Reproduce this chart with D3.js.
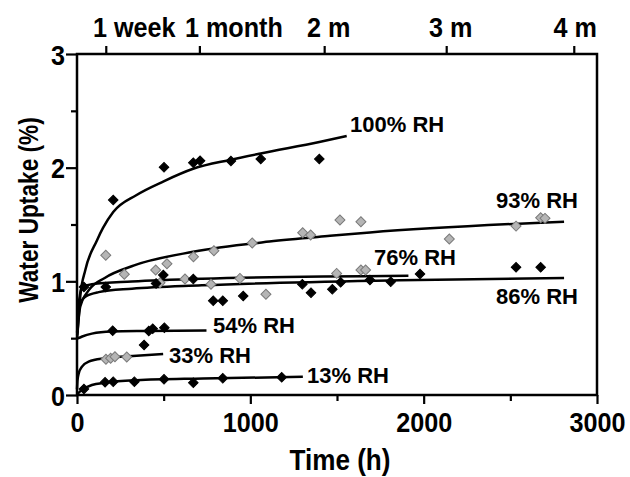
<!DOCTYPE html>
<html>
<head>
<meta charset="utf-8">
<script src="https://cdn.jsdelivr.net/npm/d3@7"></script>
<style>
  body { margin: 0; background: #fff; }
  svg { display: block; }
</style>
</head>
<body>
<div id="chart"></div>
<script>
// measured points, [hours, uptake %]
var pts100 = [[209,1.715],[502,2.003],[671,2.043],[710,2.061],[888,2.058],[1060,2.076],[1398,2.076]];
var pts93 = [[166,1.229],[273,1.062],[454,1.099],[519,1.155],[672,1.216],[790,1.269],[1011,1.337],[1302,1.427],
             [1348,1.407],[1517,1.539],[1638,1.524],[2148,1.372],[2533,1.486],[2675,1.559],[2700,1.554]];
var pts86 = [[40,0.95],[166,0.95],[456,0.982],[498,1.055],[671,1.02],[786,0.829],[841,0.829],[959,0.871],
             [1300,0.974],[1350,0.9],[1473,0.93],[1521,0.991],[1690,1.011],[1810,0.996],[1979,1.064],[2533,1.123],[2675,1.123]];
var pts76 = [[479,0.988],[623,1.02],[773,0.974],[940,1.026],[1090,0.886],[1498,1.07],[1638,1.099],[1665,1.099]];
var pts54 = [[206,0.566],[387,0.44],[414,0.563],[437,0.583],[504,0.592]];
var pts33 = [[167,0.314],[194,0.323],[219,0.337],[287,0.334]];
var pts13 = [[40,0.053],[162,0.112],[209,0.117],[331,0.117],[502,0.138],[671,0.108],[841,0.147],[1181,0.156]];

// fitted curves
var fit100 = [[1,0.5],[10,0.69],[19,0.87],[48,1.10],[115,1.36],[150,1.47],[209,1.61],[344,1.76],[500,1.88],
              [670,1.99],[888,2.07],[1060,2.125],[1398,2.225],[1556,2.278]];
var fit93 = [[1,0.53],[19,0.78],[67,0.92],[160,1.03],[330,1.14],[670,1.26],[1110,1.35],[1460,1.40],[1690,1.43],[2810,1.525]];
var fit86 = [[1,0.55],[11,0.775],[48,0.865],[125,0.905],[317,0.935],[720,0.965],[1860,1.01],[2810,1.03]];
var fit76 = [[1,0.55],[4,0.69],[29,0.95],[86,0.975],[317,0.998],[720,1.022],[1912,1.05]];
var fit54 = [[0,0.495],[30,0.515],[86,0.54],[200,0.558],[400,0.563],[747,0.568]];
var fit33 = [[0,0.05],[3,0.13],[10,0.19],[29,0.25],[67,0.293],[163,0.323],[344,0.345],[497,0.36]];
var fit13 = [[2,0.005],[10,0.02],[29,0.044],[86,0.088],[163,0.108],[344,0.13],[727,0.145],[1303,0.16]];

var seriesNames = ['100% RH', '93% RH', '86% RH', '76% RH', '54% RH', '33% RH', '13% RH'];

var xTicks = [0, 1000, 2000, 3000];
var xMinorTicks = [500, 1500, 2500];
var yTicks = [0, 1, 2, 3];
var yMinorTicks = [0.5, 1.5, 2.5];
var topTickHours = [166, 706, 1426, 2130, 2866];
var topTickLabels = ['1 week', '1 month', '2 m', '3 m', '4 m'];

function figure() {
    var width = 630, height = 477;
    var plot = { left: 77, right: 597, top: 54, bottom: 395 };
    var squeeze = 0.9;   // axis lettering is a condensed face
    var font = "'Liberation Sans', Arial, sans-serif";
    var topLabelShift = [28, 34, 4, 4, 1];

    var svg = d3.select('#chart').append('svg')
        .attr('width', width)
        .attr('height', height)
        .style('font-family', font);

    var x = d3.scaleLinear().domain([0, 3000]).range([plot.left, plot.right]);
    var y = d3.scaleLinear().domain([0, 3]).range([plot.bottom, plot.top]);

    var groups = [
        { name: seriesNames[0], pts: pts100, fit: fit100, gray: false, lx: 350, ly: 132 },
        { name: seriesNames[1], pts: pts93, fit: fit93, gray: true, lx: 496, ly: 208 },
        { name: seriesNames[2], pts: pts86, fit: fit86, gray: false, lx: 496, ly: 304 },
        { name: seriesNames[3], pts: pts76, fit: fit76, gray: true, lx: 374, ly: 265 },
        { name: seriesNames[4], pts: pts54, fit: fit54, gray: false, lx: 213, ly: 333 },
        { name: seriesNames[5], pts: pts33, fit: fit33, gray: true, lx: 169, ly: 363 },
        { name: seriesNames[6], pts: pts13, fit: fit13, gray: false, lx: 307, ly: 383 }
    ];

    // axes
    function styleAxis(g) {
        g.select('.domain').remove();
        g.attr('font-family', null).attr('font-size', null);
        g.selectAll('line').attr('stroke', '#000').attr('stroke-width', 2.2);
        g.selectAll('text')
            .attr('fill', '#000')
            .style('font-size', '28px')
            .style('font-weight', 700);
    }

    var bottom = svg.append('g')
        .attr('transform', `translate(0, ${plot.bottom})`)
        .call(d3.axisBottom(x).tickValues(xTicks).tickSize(9).tickFormat(d3.format('d')))
        .call(styleAxis);
    bottom.selectAll('text')
        .attr('y', 37).attr('dy', null)
        .attr('transform', `scale(${squeeze},1)`);

    svg.append('g')
        .attr('transform', `translate(0, ${plot.bottom})`)
        .call(d3.axisBottom(x).tickValues(xMinorTicks).tickSize(6).tickFormat(''))
        .call(styleAxis);

    var left = svg.append('g')
        .attr('transform', `translate(${plot.left}, 0)`)
        .call(d3.axisLeft(y).tickValues(yTicks).tickSize(11).tickFormat(d3.format('d')))
        .call(styleAxis);
    left.selectAll('text')
        .attr('x', -12 / squeeze).attr('dy', '0.36em')
        .attr('transform', `scale(${squeeze},1)`);

    svg.append('g')
        .attr('transform', `translate(${plot.left}, 0)`)
        .call(d3.axisLeft(y).tickValues(yMinorTicks).tickSize(6).tickFormat(''))
        .call(styleAxis);

    var top = svg.append('g')
        .attr('transform', `translate(0, ${plot.top})`)
        .call(d3.axisTop(x).tickValues(topTickHours).tickSize(8)
            .tickFormat(function(d, i) { return topTickLabels[i]; }))
        .call(styleAxis);
    top.selectAll('text')
        .attr('y', -17).attr('dy', null)
        .attr('x', function(d, i) { return topLabelShift[i] / squeeze; })
        .attr('transform', `scale(${squeeze},1)`);

    // frame
    svg.append('rect')
        .attr('x', plot.left).attr('y', plot.top)
        .attr('width', plot.right - plot.left)
        .attr('height', plot.bottom - plot.top)
        .attr('fill', 'none')
        .attr('stroke', '#000')
        .attr('stroke-width', 2.5);

    // axis titles
    svg.append('g')
        .attr('transform', 'translate(340, 470)')
        .append('text')
        .attr('transform', `scale(${squeeze},1)`)
        .attr('text-anchor', 'middle')
        .style('font-size', '29px')
        .style('font-weight', 700)
        .text('Time (h)');

    svg.append('g')
        .attr('transform', 'translate(38, 210) rotate(-90)')
        .append('text')
        .attr('transform', 'scale(0.84,1)')
        .attr('text-anchor', 'middle')
        .style('font-size', '27px')
        .style('font-weight', 700)
        .text('Water Uptake (%)');

    // fit curves
    var line = d3.line()
        .x(function(d) { return x(d[0]); })
        .y(function(d) { return y(d[1]); })
        .curve(d3.curveMonotoneX);

    svg.append('g').selectAll('path')
        .data(groups)
        .enter()
        .append('path')
        .attr('d', function(d) { return line(d.fit); })
        .attr('fill', 'none')
        .attr('stroke', '#000')
        .attr('stroke-width', 2.5);

    // markers, gray ones first
    var diamond = d3.symbol().type(d3.symbolSquare);
    var order = groups.filter(function(g) { return g.gray; })
        .concat(groups.filter(function(g) { return !g.gray; }));

    order.forEach(function(g) {
        svg.append('g').selectAll('path')
            .data(g.pts)
            .enter()
            .append('path')
            .attr('d', diamond.size(g.gray ? 50 : 46)())
            .attr('transform', function(d) { return `translate(${x(d[0])}, ${y(d[1])}) rotate(45)`; })
            .attr('fill', g.gray ? '#b5b5b5' : '#000')
            .attr('stroke', g.gray ? '#7a7a7a' : '#000')
            .attr('stroke-width', 1);
    });

    // series labels
    svg.append('g').selectAll('text')
        .data(groups)
        .enter()
        .append('text')
        .attr('x', function(d) { return d.lx; })
        .attr('y', function(d) { return d.ly; })
        .style('font-size', '22px')
        .style('font-weight', 700)
        .text(function(d) { return d.name; });
}

figure();
</script>
</body>
</html>
